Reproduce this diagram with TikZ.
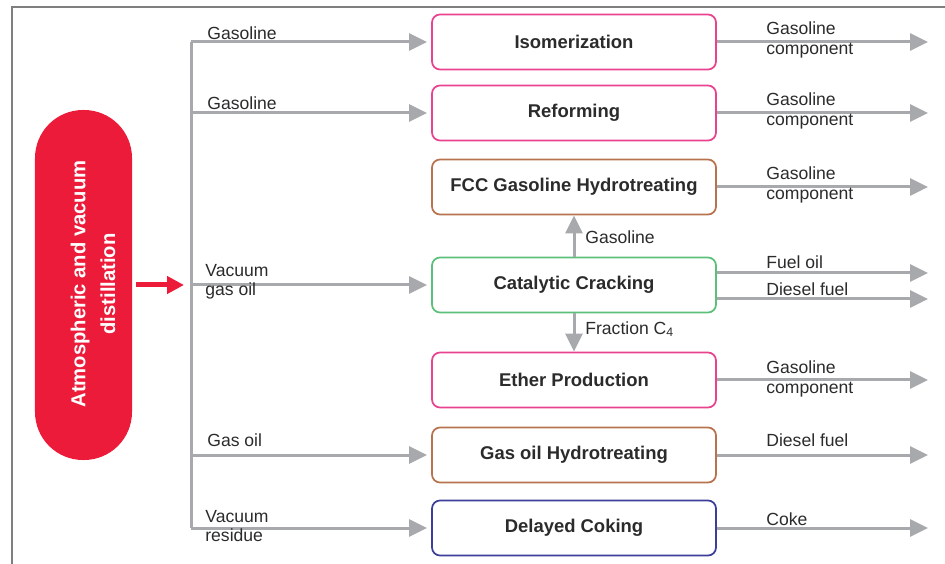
\documentclass[tikz,border=0pt]{standalone}
\usepackage{fontspec}
\setmainfont{Liberation Sans}
\usetikzlibrary{arrows.meta}
\definecolor{distred}{HTML}{ED1B3A}
\definecolor{flowgray}{HTML}{A7A9AC}
\definecolor{framegray}{HTML}{7F7F7F}
\definecolor{txtgray}{HTML}{2B2B2B}
\definecolor{pinkline}{HTML}{E9428F}
\definecolor{brownline}{HTML}{B7734E}
\definecolor{greenline}{HTML}{5CBF7A}
\definecolor{blueline}{HTML}{3C3F9A}
\tikzset{
    process/.style = {rectangle, rounded corners=1.6mm, minimum width=56.8mm, minimum height=11mm, text centered, draw=#1, line width=0.35mm, fill=white, text=txtgray, font=\fontsize{10.5}{12}\selectfont\bfseries},
    pill/.style = {rectangle, rounded corners=9.6mm, minimum width=19.4mm, minimum height=70mm, fill=distred, draw=none},
    pilltext/.style = {rotate=90, align=center, text=white, font=\fontsize{11.5}{17}\selectfont\bfseries},
    flow/.style = {text=txtgray, inner sep=0pt, align=left, font=\fontsize{10}{11}\selectfont},
    bus/.style = {draw=flowgray, line width=0.6mm},
    arrow/.style = {draw=flowgray, line width=0.6mm, -{Triangle[length=3.6mm, width=3.4mm]}},
    redarrow/.style = {draw=distred, line width=1mm, -{Triangle[length=3.4mm, width=3.4mm]}},
    frame/.style = {draw=framegray, line width=0.45mm}
}
\begin{document}
\begin{tikzpicture}[x=0.2mm, y=-0.2mm]
\useasboundingbox (0,0) rectangle (945,564);
\draw [frame] (12,564) -- (12,7) -- (945,7);

% distillation column
\node (distill) [pill] at (83.5,285) {};
\node (distilltext) [pilltext] at (93,284) {Atmospheric and vacuum\\distillation};

% process units
\node (iso) [process=pinkline] at (574,42) {Isomerization};
\node (reform) [process=pinkline] at (574,113) {Reforming};
\node (fcc) [process=brownline] at (574,187) {FCC Gasoline Hydrotreating};
\node (cat) [process=greenline] at (574,285) {Catalytic Cracking};
\node (ether) [process=pinkline] at (574,380) {Ether Production};
\node (gasoil) [process=brownline] at (574,455) {Gas oil Hydrotreating};
\node (coking) [process=blueline] at (574,528) {Delayed Coking};

% feed bus
\coordinate (b1) at (191,42);
\coordinate (b2) at (191,113);
\coordinate (b3) at (191,285);
\coordinate (b4) at (191,455);
\coordinate (b5) at (191,528);
\draw [bus] (b1) -- (b5);
\draw [redarrow, shorten <=0.8mm, shorten >=1.4mm] (distill) -- (b3);

\draw [arrow, shorten >=0.8mm] (b1) -- (iso);
\draw [arrow, shorten >=0.8mm] (b2) -- (reform);
\draw [arrow, shorten >=0.8mm] (b3) -- (cat);
\draw [arrow, shorten >=0.8mm] (b4) -- (gasoil);
\draw [arrow, shorten >=0.8mm] (b5) -- (coking);

\node (f1) [flow, anchor=west] at (207,33) {Gasoline};
\node (f2) [flow, anchor=west] at (207,103) {Gasoline};
\node (f3) [flow, anchor=west] at (205,282) {Vacuum\\gas oil};
\node (f4) [flow, anchor=west] at (207,440) {Gas oil};
\node (f5) [flow, anchor=west] at (205,526) {Vacuum\\residue};

% between units
\draw [arrow] (cat) -- (fcc);
\draw [arrow] (cat) -- (ether);
\node (c1) [flow, anchor=west] at (585,237) {Gasoline};
\node (c2) [flow, anchor=west] at (585,329) {Fraction C\textsubscript{4}};

% products
\coordinate (o1) at (928,42);
\coordinate (o2) at (928,113);
\coordinate (o3) at (928,187);
\coordinate (o4) at (928,273);
\coordinate (o5) at (928,299);
\coordinate (o6) at (928,380);
\coordinate (o7) at (928,455);
\coordinate (o8) at (928,528);
\draw [arrow] (iso) -- (o1);
\draw [arrow] (reform) -- (o2);
\draw [arrow] (fcc) -- (o3);
\draw [arrow] (cat.east |- o4) -- (o4);
\draw [arrow] (cat.east |- o5) -- (o5);
\draw [arrow] (ether) -- (o6);
\draw [arrow] (gasoil) -- (o7);
\draw [arrow] (coking) -- (o8);

\node (p1) [flow, anchor=west] at (766,40) {Gasoline\\component};
\node (p2) [flow, anchor=west] at (766,111) {Gasoline\\component};
\node (p3) [flow, anchor=west] at (766,185) {Gasoline\\component};
\node (p4) [flow, anchor=west] at (766,262) {Fuel oil};
\node (p5) [flow, anchor=west] at (766,289) {Diesel fuel};
\node (p6) [flow, anchor=west] at (766,379) {Gasoline\\component};
\node (p7) [flow, anchor=west] at (766,440) {Diesel fuel};
\node (p8) [flow, anchor=west] at (766,519) {Coke};
\end{tikzpicture}
\end{document}
